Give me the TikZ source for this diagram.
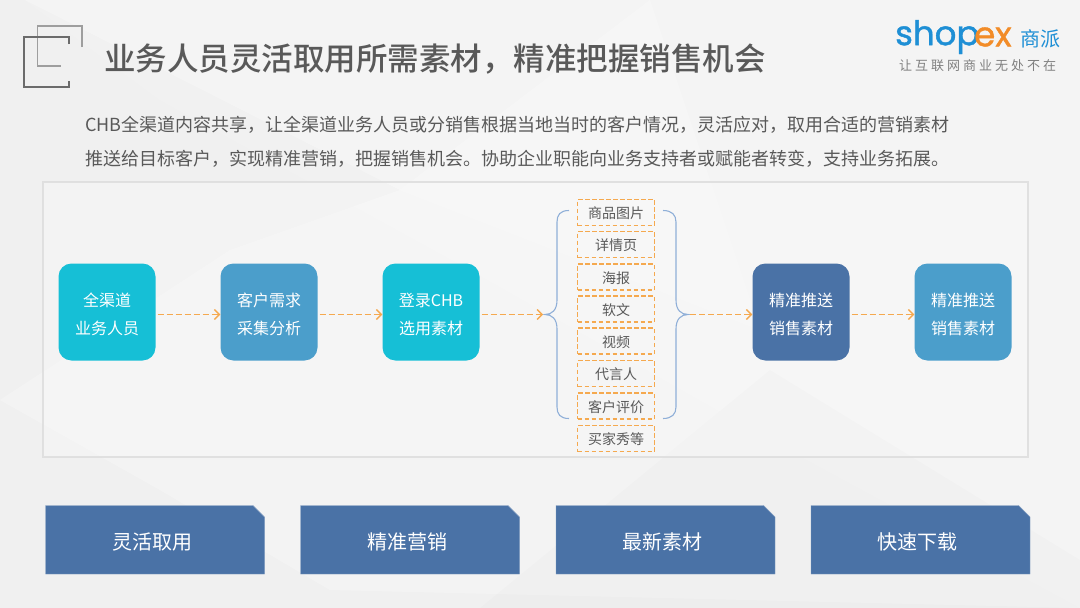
\documentclass[tikz,border=0pt]{standalone}
\usepackage{fontspec}
\setmainfont{Noto Sans CJK SC}
\newfontfamily\titlefont{Noto Sans CJK SC Medium}
\newfontfamily\logofont[FakeBold=1.2]{Poppins}
\usetikzlibrary{arrows.meta,calc}
\definecolor{bgc}{HTML}{F0F0F0}
\definecolor{teal}{HTML}{16BFD6}
\definecolor{sky}{HTML}{4B9ECB}
\definecolor{navy}{HTML}{4A72A6}
\definecolor{orng}{HTML}{F5A94F}
\definecolor{ink}{HTML}{595959}
\definecolor{brace}{HTML}{8FAFD8}
\definecolor{logoblue}{HTML}{1E8FD5}
\definecolor{logoorange}{HTML}{F28C28}
\newcommand{\flowtext}[2]{\smash{\raisebox{-8pt}{#1}}\\\smash{\raisebox{-8pt}{#2}}}
\newcommand{\itemtext}[1]{\raisebox{-6pt}[0pt][0pt]{#1}}
\tikzset{
  x=1pt,y=-1pt,
  flowbox/.style={rounded corners=13pt,minimum width=97pt,minimum height=97pt,inner sep=0pt,text=white,font=\fontsize{16}{28}\selectfont,align=center},
  itembox/.style={draw=orng,dash pattern=on 4.5pt off 2.5pt,line width=1.1pt,minimum width=77pt,minimum height=26pt,inner sep=0pt,text=ink,font=\fontsize{14}{15}\selectfont},
  flowarrow/.style={draw=orng,dash pattern=on 6pt off 3pt,line width=1.3pt,-{Straight Barb[length=5pt,width=10pt,line width=1.3pt]}},
  tagbox/.style={fill=navy,draw=navy!70!white,line width=.4pt},
  taglabel/.style={text=white,font=\fontsize{20}{22}\selectfont,inner sep=0pt}
}
\begin{document}
\begin{tikzpicture}
\useasboundingbox (0,0) rectangle (1080,608);
\fill[bgc] (0,0) rectangle (1080,608);
% faint background facets
\fill[white,opacity=.25] (25,0) -- (1080,0) -- (1080,608) -- (330,590) -- (160,490) -- (0,400) -- (230,250) -- (400,190) -- cycle;
\fill[white,opacity=.12] (25,0) -- (160,100) -- (470,270) -- (770,440) -- (1080,608) -- (1080,0) -- cycle;
\fill[white,opacity=.25] (400,190) -- (650,0) -- (760,330) -- cycle;
\fill[black,opacity=.012] (770,370) -- (1080,560) -- (1080,608) -- (480,608) -- cycle;
% panel
\fill[white,opacity=.2] (43,182) rectangle (1028,457);
\draw[black!13,line width=2.5pt,opacity=.9] (43,182) rectangle (1028,457);
% corner icon
\draw[black!38,line width=1.3pt] (82,47) -- (82,26) -- (37.5,26) -- (37.5,66) -- (61,66);
\draw[black!58,line width=1.4pt] (69,44) -- (69,37) -- (24,37) -- (24,87) -- (69,87) -- (69,81);
% title
\node[anchor=west,inner sep=0pt,text=ink] (title) at (104,59.5) {\titlefont\fontsize{31.5}{36}\selectfont 业务人员灵活取用所需素材，精准把握销售机会};
% logo
\node[anchor=west,inner sep=0pt,text=logoblue] (logoa) at (895,37) {\logofont\fontsize{34}{36}\selectfont shop};
\node[anchor=west,inner sep=0pt,text=logoorange] (logob) at (974,37) {\logofont\fontsize{34}{36}\selectfont ex};
\node[anchor=west,inner sep=0pt,text=logoblue] (logoc) at (1020,39) {\fontsize{20}{20}\selectfont 商派};
\node[anchor=west,inner sep=0pt,text=black!50] (logod) at (899,66) {\fontsize{13}{14}\selectfont 让\hspace{3pt}互\hspace{3pt}联\hspace{3pt}网\hspace{3pt}商\hspace{3pt}业\hspace{3pt}无\hspace{3pt}处\hspace{3pt}不\hspace{3pt}在};
% body text
\node[anchor=west,inner sep=0pt,text=ink] (bodya) at (85,125) {\fontsize{18}{20}\selectfont CHB全渠道内容共享，让全渠道业务人员或分销售根据当地当时的客户情况，灵活应对，取用合适的营销素材};
\node[anchor=west,inner sep=0pt,text=ink] (bodyb) at (85,159) {\fontsize{18}{20}\selectfont 推送给目标客户，实现精准营销，把握销售机会。协助企业职能向业务支持者或赋能者转变，支持业务拓展。};
% flow boxes
\node[flowbox,fill=teal] (a) at (107,312) {\flowtext{全渠道}{业务人员}};
\node[flowbox,fill=sky]  (b) at (269,312) {\flowtext{客户需求}{采集分析}};
\node[flowbox,fill=teal] (c) at (431,312) {\flowtext{登录CHB}{选用素材}};
\node[flowbox,fill=navy] (d) at (801,312) {\flowtext{精准推送}{销售素材}};
\node[flowbox,fill=sky]  (e) at (963,312) {\flowtext{精准推送}{销售素材}};
% items
\node[itembox] (i1) at (616,212.5) {\itemtext{商品图片}};
\node[itembox] (i2) at (616,244.5) {\itemtext{详情页}};
\node[itembox] (i3) at (616,277) {\itemtext{海报}};
\node[itembox] (i4) at (616,309) {\itemtext{软文}};
\node[itembox] (i5) at (616,341) {\itemtext{视频}};
\node[itembox] (i6) at (616,373.5) {\itemtext{代言人}};
\node[itembox] (i7) at (616,406) {\itemtext{客户评价}};
\node[itembox] (i8) at (616,438.5) {\itemtext{买家秀等}};
% braces
\coordinate (lb) at (545,314.5);
\coordinate (rb) at (688,314.5);
\coordinate (la) at (543,314.5);
\coordinate (ra) at (690,314.5);
\draw[brace,line width=1.1pt] (569,210.5) .. controls (560,210.5) and (557,215) .. (557,222) -- (557,300) .. controls (557,310) and (552,314.5) .. (lb) .. controls (552,314.5) and (557,319) .. (557,329) -- (557,407) .. controls (557,414) and (560,418.5) .. (569,418.5);
\draw[brace,line width=1.1pt] (663,210.5) .. controls (672,210.5) and (676,215) .. (676,222) -- (676,300) .. controls (676,310) and (681,314.5) .. (rb) .. controls (681,314.5) and (676,319) .. (676,329) -- (676,407) .. controls (676,414) and (672,418.5) .. (663,418.5);
% arrows
\draw[flowarrow] (a.east |- 0,314.5) ++(2,0) -- (b.west |- 0,314.5);
\draw[flowarrow] (b.east |- 0,314.5) ++(2,0) -- (c.west |- 0,314.5);
\draw[flowarrow] (c.east |- 0,314.5) ++(2,0) -- (la);
\draw[flowarrow] (ra) -- (d.west |- 0,314.5);
\draw[flowarrow] (d.east |- 0,314.5) ++(2,0) -- (e.west |- 0,314.5);
% bottom tags
\foreach \n/\x/\t in {t1/45.5/灵活取用,t2/300.5/精准营销,t3/556/最新素材,t4/811/快速下载}{
  \draw[tagbox] (\x,505.5) -- ++(207.5,0) -- ++(11.5,11.5) -- ++(0,57) -- ++(-219,0) -- cycle;
  \node[taglabel] (\n) at (\x+106.5,541.5) {\t};
}
\end{tikzpicture}
\end{document}
